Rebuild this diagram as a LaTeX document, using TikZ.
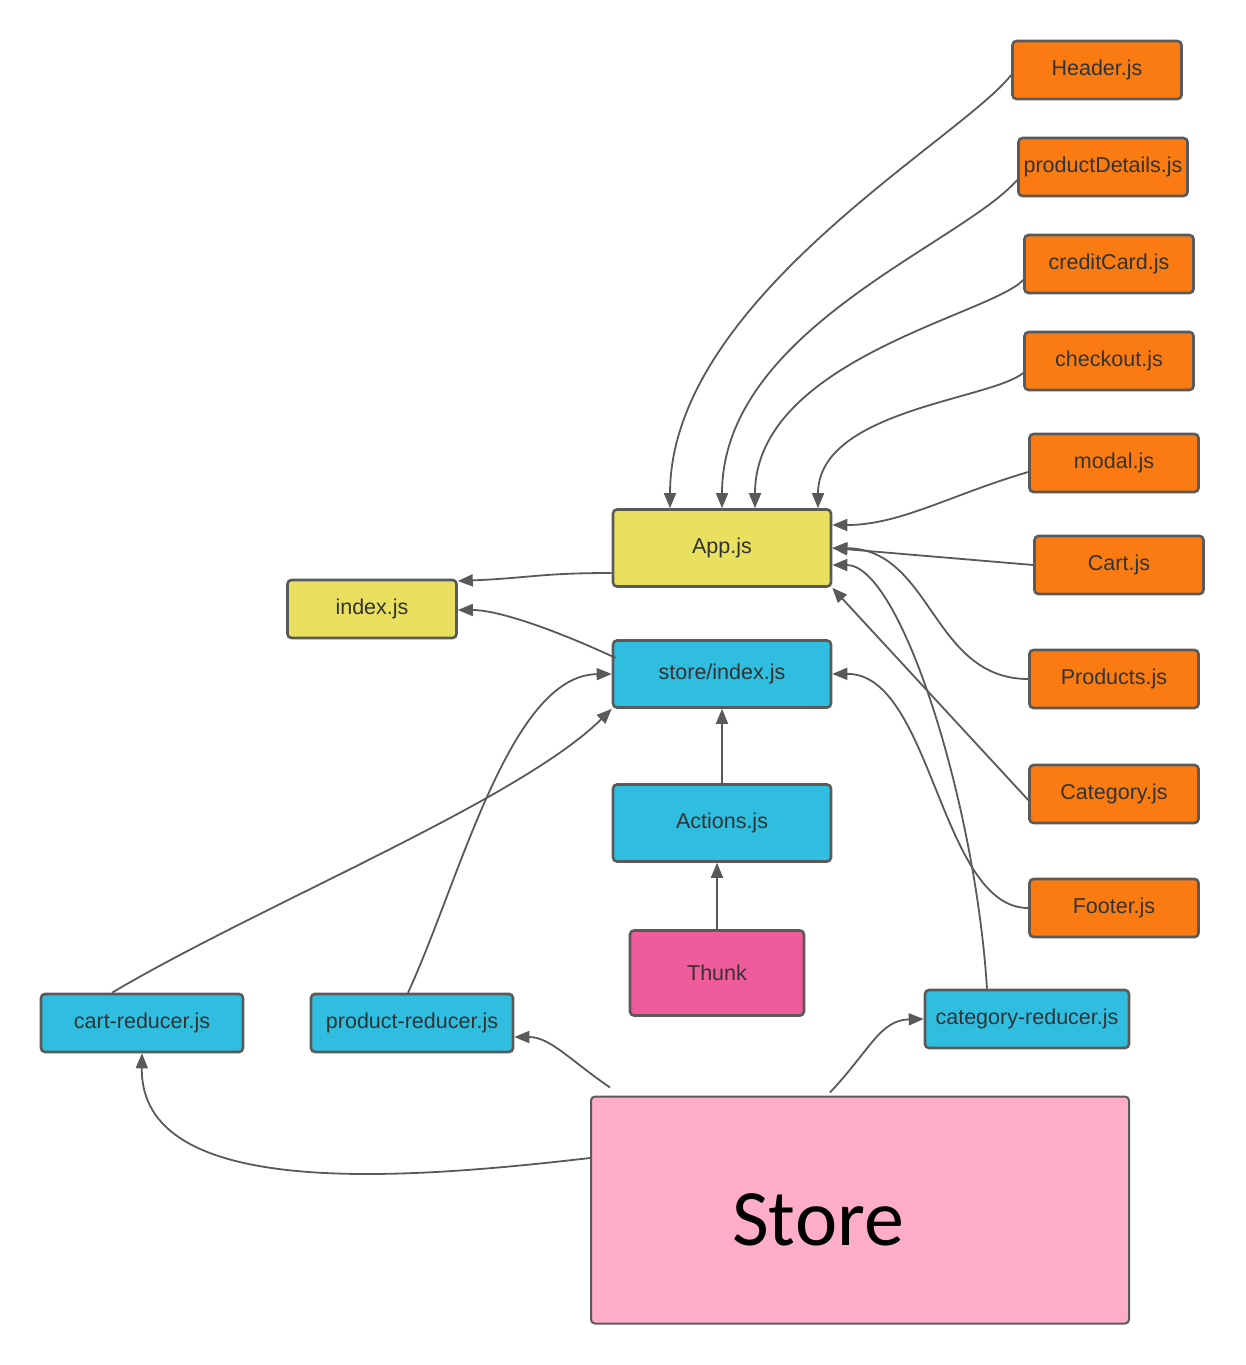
\documentclass[tikz,border=0pt]{standalone}
\usepackage{fontspec}
\setmainfont{Liberation Sans}
\newfontfamily\storefont{Carlito}
\usepackage{tikz}
\usetikzlibrary{arrows.meta}
\usetikzlibrary{positioning}
\definecolor{jsorange}{HTML}{FA7B12}
\definecolor{jsyellow}{HTML}{E8E05E}
\definecolor{jsblue}{HTML}{2FBDE0}
\definecolor{thunkpink}{HTML}{EF5C9C}
\definecolor{storepink}{HTML}{FFADC9}
\definecolor{boxgray}{HTML}{5A5A5A}
\definecolor{linegray}{HTML}{595959}
\definecolor{labelgray}{HTML}{333333}
\tikzstyle{file} = [rectangle, rounded corners=4pt, minimum width=169pt, minimum height=58pt, inner sep=2pt, text centered, draw=boxgray, line width=2.6pt, text=labelgray, font=\fontsize{21.5}{25}\selectfont]
\tikzstyle{component} = [file, fill=jsorange]
\tikzstyle{entry} = [file, fill=jsyellow]
\tikzstyle{redux} = [file, fill=jsblue]
\tikzstyle{middleware} = [file, fill=thunkpink]
\tikzstyle{storebox} = [rectangle, rounded corners=4pt, minimum width=538pt, minimum height=227pt, draw=boxgray, line width=2pt, fill=storepink]
\tikzstyle{link} = [draw=linegray, line width=1.8pt, -{Triangle[length=15pt,width=12pt]}]

\begin{document}
\begin{tikzpicture}[x=1pt, y=-1pt]
\useasboundingbox (0,0) rectangle (1245,1365);

% components imported by App.js
\node (header) [component] at (1097,70) {Header.js};
\node (details) [component] at (1103,167) {productDetails.js};
\node (credit) [component] at (1109,264) {creditCard.js};
\node (checkout) [component] at (1109,361) {checkout.js};
\node (modal) [component] at (1114,463) {modal.js};
\node (cart) [component] at (1119,565) {Cart.js};
\node (products) [component] at (1114,679) {Products.js};
\node (category) [component] at (1114,794) {Category.js};
\node (footer) [component] at (1114,908) {Footer.js};

% entry files
\node (app) [entry, minimum width=218pt, minimum height=77pt] at (722,548) {App.js};
\node (index) [entry] at (372,609) {index.js};

% redux
\node (storeidx) [redux, minimum width=218pt, minimum height=67pt] at (722,674) {store/index.js};
\node (actions) [redux, minimum width=218pt, minimum height=77pt] at (722,823) {Actions.js};
\node (thunk) [middleware, minimum width=174pt, minimum height=85pt] at (717,973) {Thunk};
\node (cartred) [redux, minimum width=202pt] at (142,1023) {cart-reducer.js};
\node (prodred) [redux, minimum width=202pt] at (412,1023) {product-reducer.js};
\node (catred) [redux, minimum width=204pt] at (1027,1019) {category-reducer.js};
\node (store) [storebox, label={[font=\storefont\fontsize{80}{92}\selectfont, text=black, xshift=-42pt, yshift=-10pt]center:Store}] at (860,1210) {};

% into App.js
\draw [link] ([yshift=-5pt]header.west) .. controls (960,140) and (670,300) .. ([xshift=-52pt]app.north);
\draw [link] ([yshift=-13pt]details.west) .. controls (960,245) and (722,330) .. (app.north);
\draw [link] ([yshift=-16pt]credit.west) .. controls (990,315) and (755,360) .. ([xshift=33pt]app.north);
\draw [link] ([yshift=-12pt]checkout.west) .. controls (990,400) and (818,410) .. ([xshift=96pt]app.north);
\draw [link] ([yshift=-9pt]modal.west) .. controls (950,495) and (900,525) .. ([yshift=23pt]app.east);
\draw [link] (cart.west) -- (app.east);
\draw [link] (products.west) .. controls (932,679) and (932,549) .. (app.east);
\draw [link] ([yshift=-6pt]category.west) -- (app.south east);
\draw [link] ([xshift=-40pt]catred.north) .. controls (975,800) and (900,565) .. ([yshift=-17pt]app.east);

% into index.js
\draw [link] ([yshift=-25pt]app.west) .. controls (540,573) and (530,578) .. ([yshift=28pt]index.east);
\draw [link] ([xshift=4pt,yshift=16pt]storeidx.west) .. controls (560,632) and (500,610) .. ([yshift=-1pt]index.east);

% into store/index.js
\draw [link] (actions.north) -- (storeidx.south);
\draw [link] ([xshift=-4pt]prodred.north) .. controls (460,880) and (510,675) .. (storeidx.west);
\draw [link] ([xshift=-30pt]cartred.north) .. controls (260,905) and (520,800) .. (storeidx.south west);
\draw [link] (footer.west) .. controls (940,908) and (932,673) .. (storeidx.east);
\draw [link] (thunk.north) -- ([xshift=-5pt]actions.south);

% out of the store
\draw [link] ([yshift=52pt]store.west) .. controls (400,1180) and (140,1200) .. (cartred.south);
\draw [link] ([xshift=-250pt,yshift=8pt]store.north) .. controls (570,1060) and (550,1037) .. ([yshift=-14pt]prodred.east);
\draw [link] ([xshift=-30pt,yshift=3pt]store.north) .. controls (870,1050) and (880,1020) .. (catred.west);
\end{tikzpicture}
\end{document}
